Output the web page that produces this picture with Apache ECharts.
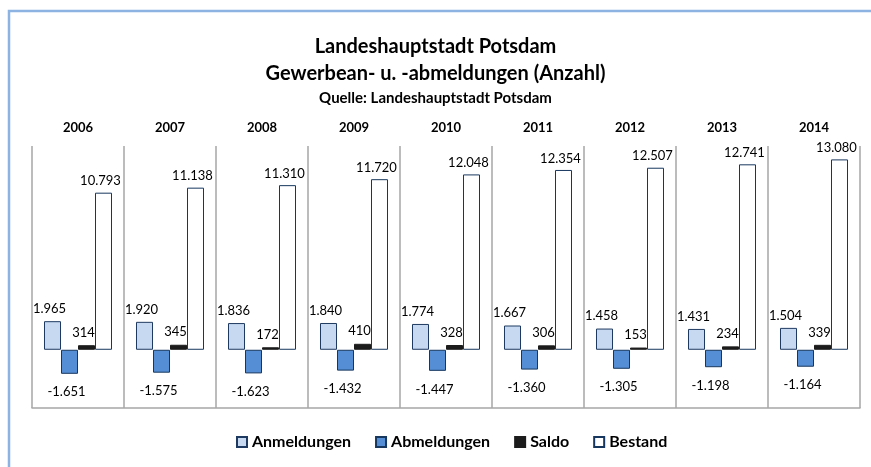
<!DOCTYPE html>
<html>
<head>
<meta charset="utf-8">
<script src="https://cdn.jsdelivr.net/npm/echarts@6/dist/echarts.min.js"></script>
<style>
  html, body { margin: 0; padding: 0; background: #fff; }
  #main { width: 871px; height: 467px; }
</style>
</head>
<body>
<div id="main"></div>
<script>
var years = ['2006', '2007', '2008', '2009', '2010', '2011', '2012', '2013', '2014'];
var anmeldungen = [1965, 1920, 1836, 1840, 1774, 1667, 1458, 1431, 1504];
var abmeldungen = [-1651, -1575, -1623, -1432, -1447, -1360, -1305, -1198, -1164];
var saldo = [314, 345, 172, 410, 328, 306, 153, 234, 339];
var bestand = [10793, 11138, 11310, 11720, 12048, 12354, 12507, 12741, 13080];

var FONT = 'Lato';

// deutsche Tausenderpunkte
function fmt(v) {
    var s = String(Math.abs(v)).replace(/\B(?=(\d{3})+(?!\d))/g, '.');
    return (v < 0 ? '-' : '') + s;
}

var labelBase = {
    show: true,
    fontFamily: FONT,
    fontSize: 13,
    color: '#000',
    offset: [-3, 0],
    formatter: function (p) { return fmt(p.value); }
};

function barSeries(name, data, fill, border, pos, dist) {
    return {
        name: name,
        type: 'bar',
        data: data,
        barWidth: 17,
        barGap: '0%',
        itemStyle: { color: fill, borderColor: border, borderWidth: 1 },
        label: Object.assign({}, labelBase, { position: pos, distance: dist }),
        emphasis: { disabled: true }
    };
}

var myChart = echarts.init(document.getElementById('main'));

var option = {
    animation: false,
    backgroundColor: '#fff',
    graphic: [{
        type: 'rect',
        shape: { x: 9, y: 11, width: 900, height: 500 },
        style: { fill: 'none', stroke: '#8db3e2', lineWidth: 2.5 }
    }],
    title: [
        {
            text: 'Landeshauptstadt Potsdam',
            left: 'center',
            top: 32,
            textStyle: { fontFamily: FONT, fontSize: 20, fontWeight: 'bold', color: '#000' }
        },
        {
            text: 'Gewerbean- u. -abmeldungen (Anzahl)',
            left: 'center',
            top: 59,
            textStyle: { fontFamily: FONT, fontSize: 20, fontWeight: 'bold', color: '#000' }
        },
        {
            text: 'Quelle: Landeshauptstadt Potsdam',
            left: 'center',
            top: 86,
            textStyle: { fontFamily: FONT, fontSize: 15, fontWeight: 'bold', color: '#000' }
        }
    ],
    legend: {
        bottom: 12,
        left: 231,
        icon: 'rect',
        itemWidth: 10,
        itemHeight: 10,
        itemGap: 24,
        textStyle: { fontFamily: FONT, fontSize: 16, fontWeight: 'bold', color: '#000' },
        data: ['Anmeldungen', 'Abmeldungen', 'Saldo', 'Bestand']
    },
    grid: { left: 32, right: 11, top: 146, bottom: 59 },
    xAxis: [
        {
            type: 'category',
            data: years,
            position: 'top',
            axisLine: { show: false },
            axisTick: { show: false },
            axisLabel: { fontFamily: FONT, fontSize: 13, fontWeight: 'bold', color: '#000', margin: 12 }
        },
        {
            type: 'category',
            data: years,
            position: 'bottom',
            axisLine: { show: true, onZero: true, lineStyle: { color: '#a6a6a6', width: 1.5 } },
            axisTick: { show: false },
            axisLabel: { show: false },
            splitLine: { show: true, lineStyle: { color: '#a6a6a6', width: 1.5 } }
        }
    ],
    yAxis: {
        type: 'value',
        min: -4000,
        max: 14000,
        show: false,
        splitLine: { show: false }
    },
    series: [
        barSeries('Anmeldungen', anmeldungen, '#c6d9f1', '#1f3a60', 'top', 6),
        barSeries('Abmeldungen', abmeldungen, '#558ed5', '#17375e', 'bottom', 12),
        barSeries('Saldo', saldo, '#1c1c1c', '#1c1c1c', 'top', 6),
        barSeries('Bestand', bestand, '#ffffff', '#17375e', 'top', 5)
    ]
};

myChart.setOption(option);
</script>
</body>
</html>
